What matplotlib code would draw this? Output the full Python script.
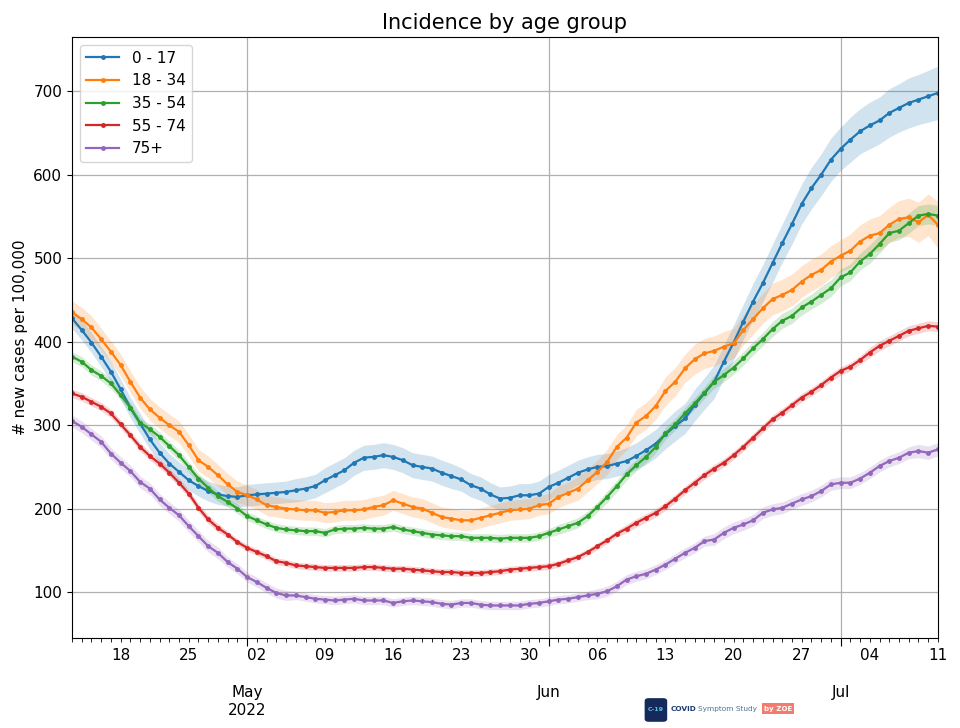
import numpy as np
import pandas as pd
import matplotlib
matplotlib.use("Agg")
import matplotlib.pyplot as plt
import matplotlib.dates as mdates
from matplotlib.ticker import FuncFormatter
from matplotlib.patches import FancyBboxPatch, Rectangle

dates = pd.date_range("2022-04-13", "2022-07-11", freq="D")
groups = ["0 - 17", "18 - 34", "35 - 54", "55 - 74", "75+"]

age_0_17 = [428, 414, 399, 382, 364, 343, 321, 302, 283, 267,
            254, 244, 234, 227, 221, 217, 215, 214, 216, 217,
            218, 219, 220, 222, 224, 227, 234, 240, 246, 255,
            261, 262, 264, 262, 258, 252, 250, 248, 243, 239,
            235, 228, 224, 217, 212, 213, 216, 216, 218, 226,
            231, 237, 243, 247, 250, 251, 254, 257, 263, 270,
            278, 289, 299, 308, 324, 338, 352, 376, 399, 424,
            448, 470, 494, 518, 541, 565, 584, 600, 618, 631,
            642, 652, 659, 665, 674, 680, 686, 690, 694, 698]
age_18_34 = [435, 427, 417, 403, 388, 372, 352, 333, 319, 309,
             300, 292, 276, 258, 250, 240, 229, 220, 216, 211,
             204, 202, 200, 199, 198, 198, 195, 196, 198, 198,
             199, 202, 204, 210, 206, 202, 200, 195, 190, 188,
             186, 186, 189, 192, 195, 198, 199, 200, 204, 206,
             214, 219, 224, 234, 244, 256, 274, 285, 303, 311,
             323, 341, 352, 368, 379, 386, 389, 394, 398, 414,
             427, 440, 451, 456, 462, 472, 480, 486, 496, 503,
             509, 520, 527, 530, 540, 547, 549, 543, 552, 540]
age_35_54 = [382, 376, 366, 359, 350, 336, 321, 303, 295, 286,
             275, 264, 250, 236, 225, 215, 208, 200, 191, 186,
             181, 177, 175, 174, 173, 173, 171, 175, 176, 176,
             177, 176, 176, 178, 175, 173, 171, 169, 168, 167,
             167, 165, 165, 165, 164, 165, 165, 165, 167, 171,
             175, 179, 183, 191, 202, 214, 227, 241, 252, 262,
             274, 290, 301, 314, 326, 339, 352, 360, 369, 380,
             392, 403, 415, 425, 431, 441, 448, 456, 464, 477,
             483, 496, 505, 517, 530, 533, 542, 551, 553, 551]
age_55_74 = [338, 334, 328, 322, 314, 301, 288, 274, 263, 254,
             243, 231, 218, 201, 187, 177, 169, 160, 153, 148,
             143, 137, 135, 132, 131, 130, 129, 129, 129, 129,
             130, 130, 129, 128, 128, 127, 126, 125, 124, 124,
             123, 123, 123, 124, 125, 127, 128, 129, 130, 131,
             134, 138, 142, 148, 155, 162, 170, 176, 183, 189,
             195, 203, 212, 222, 231, 240, 248, 255, 264, 274,
             285, 296, 307, 315, 324, 333, 340, 348, 357, 365,
             370, 378, 387, 395, 401, 407, 413, 416, 419, 418]
age_75 = [305, 298, 289, 280, 266, 255, 245, 232, 224, 211,
          201, 192, 179, 167, 155, 147, 136, 128, 118, 112,
          105, 99, 96, 96, 94, 92, 91, 90, 91, 92,
          90, 90, 90, 87, 89, 90, 89, 88, 86, 85,
          87, 87, 85, 84, 84, 84, 84, 86, 87, 89,
          91, 92, 94, 96, 98, 101, 107, 115, 119, 122,
          127, 133, 140, 147, 153, 161, 163, 171, 177, 181,
          186, 195, 199, 201, 206, 211, 215, 221, 229, 231,
          231, 236, 243, 251, 257, 261, 267, 269, 267, 271]

# half width of the shaded uncertainty band
err_0_17 = [12, 12, 12, 12, 12, 12, 12, 12, 12, 12,
            12, 12, 12, 12, 12, 12, 12, 12, 13, 13,
            13, 13, 13, 14, 14, 14, 15, 15, 15, 15,
            15, 15, 15, 15, 15, 15, 15, 15, 15, 15,
            14, 14, 14, 14, 14, 14, 14, 14, 15, 15,
            15, 15, 15, 15, 15, 15, 15, 16, 16, 17,
            17, 17, 18, 18, 19, 19, 20, 20, 21, 21,
            22, 22, 23, 23, 24, 24, 25, 25, 26, 26,
            27, 27, 28, 28, 29, 29, 30, 30, 31, 32]
err_18_34 = [14, 14, 14, 13, 13, 13, 13, 13, 13, 13,
             13, 13, 13, 13, 13, 13, 13, 13, 12, 12,
             12, 12, 12, 12, 12, 12, 12, 12, 12, 12,
             12, 12, 12, 12, 12, 12, 12, 12, 12, 12,
             12, 12, 12, 12, 12, 12, 12, 12, 12, 12,
             13, 13, 14, 14, 14, 15, 15, 15, 16, 16,
             16, 17, 17, 17, 18, 18, 18, 18, 18, 18,
             18, 18, 19, 19, 19, 19, 19, 19, 19, 19,
             20, 20, 20, 21, 21, 22, 23, 24, 25, 28]
err_35_54 = [6, 6, 6, 6, 6, 6, 6, 6, 6, 6,
             6, 6, 6, 6, 6, 6, 6, 6, 5, 5,
             5, 5, 5, 5, 5, 5, 5, 5, 5, 5,
             5, 5, 5, 5, 5, 5, 5, 5, 5, 5,
             5, 5, 5, 5, 5, 5, 5, 5, 5, 5,
             6, 6, 6, 6, 6, 7, 7, 7, 7, 7,
             7, 7, 7, 7, 7, 7, 8, 8, 8, 8,
             8, 8, 9, 9, 9, 9, 9, 10, 10, 10,
             10, 10, 11, 11, 11, 11, 12, 12, 12, 12]
err_55_74 = [5, 5, 5, 5, 5, 5, 5, 5, 5, 5,
             5, 5, 5, 5, 5, 5, 4, 4, 4, 4,
             4, 4, 4, 4, 4, 4, 4, 4, 4, 4,
             4, 4, 4, 4, 4, 4, 4, 4, 4, 4,
             4, 4, 4, 4, 4, 4, 4, 4, 4, 4,
             4, 4, 4, 4, 4, 4, 4, 5, 5, 5,
             5, 5, 5, 5, 5, 5, 5, 5, 5, 5,
             5, 5, 5, 5, 5, 5, 5, 5, 5, 5,
             5, 5, 6, 6, 6, 6, 6, 6, 6, 6]
err_75 = [7, 7, 7, 7, 7, 7, 7, 7, 7, 7,
          7, 7, 7, 7, 7, 7, 6, 6, 6, 6,
          6, 6, 6, 5, 5, 5, 5, 5, 5, 5,
          5, 5, 5, 5, 5, 5, 5, 5, 5, 5,
          5, 5, 5, 5, 5, 5, 5, 5, 5, 5,
          5, 5, 5, 5, 6, 6, 6, 6, 6, 6,
          6, 6, 6, 6, 6, 6, 7, 7, 7, 7,
          7, 7, 7, 7, 7, 7, 7, 7, 7, 7,
          7, 7, 7, 7, 7, 7, 7, 8, 8, 8]

series = [age_0_17, age_18_34, age_35_54, age_55_74, age_75]
errors = [err_0_17, err_18_34, err_35_54, err_55_74, err_75]
colours = ["#1f77b4", "#ff7f0e", "#2ca02c", "#d62728", "#9467bd"]

fig = plt.figure(figsize=(9.6, 7.28), dpi=100)
ax = fig.add_axes([0.075, 0.1236, 0.902, 0.8256])

for name, vals, err, c in zip(groups, series, errors, colours):
    vals = np.array(vals, dtype=float)
    err = np.array(err, dtype=float)
    ax.fill_between(dates, vals - err, vals + err, color=c, alpha=0.2, lw=0)
    ax.plot(dates, vals, color=c, lw=1.6, marker=".", markersize=5, label=name)

ax.set_xlim(dates[0], dates[-1])
ax.set_ylim(45, 765)
ax.set_yticks([100, 200, 300, 400, 500, 600, 700])

ax.xaxis.set_major_locator(mdates.MonthLocator())
ax.xaxis.set_major_formatter(FuncFormatter(
    lambda x, pos: "May\n2022" if mdates.num2date(x).month == 5 else mdates.num2date(x).strftime("%b")))
ax.xaxis.set_minor_locator(mdates.DayLocator())
ax.xaxis.set_minor_formatter(FuncFormatter(
    lambda x, pos: mdates.num2date(x).strftime("%d") if mdates.num2date(x).weekday() == 0 else ""))
ax.tick_params(axis="x", which="major", length=6, pad=28, labelsize=11)
ax.tick_params(axis="x", which="minor", length=3, pad=4, labelsize=11)
ax.tick_params(axis="y", labelsize=11)

ax.grid(True, which="major", color="#b0b0b0", lw=0.9)
ax.set_axisbelow(True)

ax.set_title("Incidence by age group", fontsize=15)
ax.set_ylabel("# new cases per 100,000", fontsize=11)
ax.legend(loc="upper left", fontsize=11, handlelength=2.2)

# COVID Symptom Study logo
fig.patches.append(FancyBboxPatch((0.6735, 0.0105), 0.0195, 0.0285,
                                  boxstyle="round,pad=0.002,rounding_size=0.004",
                                  transform=fig.transFigure, facecolor="#15295a", edgecolor="none"))
fig.text(0.6832, 0.0248, "C-19", fontsize=4.5, color="#4fc3e8", ha="center", va="center", weight="bold")
fig.text(0.6987, 0.0265, "COVID", fontsize=5.3, color="#1f3c6e", va="center", weight="bold")
fig.text(0.7275, 0.0265, "Symptom Study", fontsize=5.3, color="#4f6f94", va="center")
fig.patches.append(Rectangle((0.7934, 0.0192), 0.0336, 0.0151, transform=fig.transFigure,
                             facecolor="#f47c6e", edgecolor="none"))
fig.text(0.8102, 0.0267, "by ZOE", fontsize=5, color="white", va="center", ha="center", weight="bold")

fig.savefig("out.png", dpi=100)
